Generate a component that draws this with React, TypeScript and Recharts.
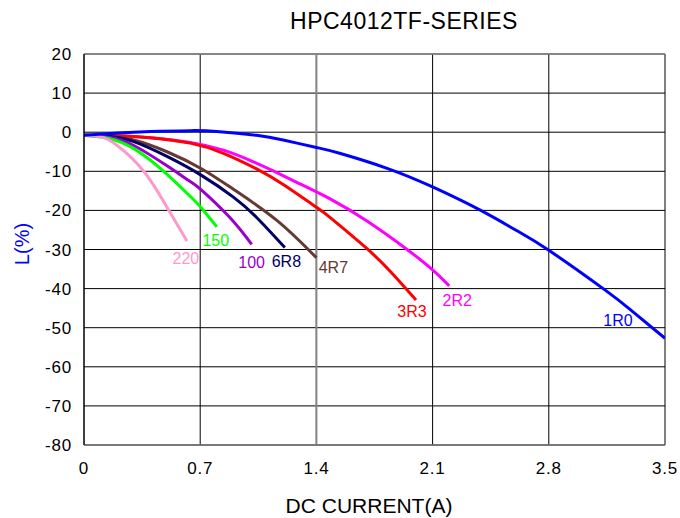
import React from 'react';
import { LineChart, Line, XAxis, YAxis, CartesianGrid, ReferenceLine, LabelList } from 'recharts';

// DC current (A) / inductance change (%), one pair of arrays per part
const X_1R0 = [0, 0.2, 0.4, 0.64, 0.8, 1.04, 1.2, 1.4, 1.54, 1.83, 2.1, 2.39, 2.6, 2.8, 3.14, 3.3, 3.5];
const Y_1R0 = [-0.8, -0.2, 0.2, 0.4, 0.2, -0.8, -2.0, -3.9, -5.4, -9.3, -14.0, -20, -25, -30.2, -40.4, -45.7, -52.7];

const X_2R2 = [0, 0.2, 0.4, 0.64, 0.84, 1.0, 1.14, 1.3, 1.48, 1.7, 1.94, 2.1, 2.2];
const Y_2R2 = [-0.8, -0.9, -1.4, -2.6, -4.6, -7.2, -9.9, -13.2, -17.0, -22.6, -29.8, -35.2, -39.3];

const X_3R3 = [0, 0.2, 0.4, 0.64, 0.84, 1.04, 1.2, 1.4, 1.5, 1.7, 1.85, 2.0];
const Y_3R3 = [-0.8, -0.9, -1.4, -2.8, -5.4, -9.4, -13.4, -19.2, -22.4, -29.6, -35.8, -42.9];

const X_4R7 = [0, 0.15, 0.3, 0.5, 0.71, 0.9, 1.16, 1.4];
const Y_4R7 = [-0.8, -1.0, -2.0, -5.0, -9.4, -14.6, -22.5, -32.1];

const X_6R8 = [0, 0.15, 0.3, 0.5, 0.71, 0.9, 1.04, 1.21];
const Y_6R8 = [-0.8, -1.1, -2.4, -6.2, -11.1, -16.6, -21.8, -29.5];

const X_100 = [0, 0.15, 0.3, 0.5, 0.64, 0.71, 0.88, 1.01];
const Y_100 = [-0.8, -1.3, -3.4, -8.6, -12.6, -14.9, -21.9, -28.7];

const X_150 = [0, 0.15, 0.3, 0.48, 0.64, 0.71, 0.8];
const Y_150 = [-0.8, -1.6, -4.2, -10, -16.4, -19.5, -24.2];

const X_220 = [0, 0.1, 0.2, 0.36, 0.5, 0.62];
const Y_220 = [-0.8, -1.2, -3.4, -10, -19.2, -27.8];

const X_TICKS = [0, 0.7, 1.4, 2.1, 2.8, 3.5];
const Y_TICKS = [20, 10, 0, -10, -20, -30, -40, -50, -60, -70, -80];

const FONT = '"Liberation Sans", Arial, sans-serif';

const toPoints = (xs: number[], ys: number[]) => xs.map((x, i) => ({ x, y: ys[i] }));

// drawing order, colour and where each part name sits relative to the end of its curve
const SERIES = [
    { name: '2R2', xs: X_2R2, ys: Y_2R2, color: '#FF00FF', dx: 8, dy: 14.5 },
    { name: '3R3', xs: X_3R3, ys: Y_3R3, color: '#FF0000', dx: -4, dy: 12 },
    { name: '4R7', xs: X_4R7, ys: Y_4R7, color: '#663A33', dx: 17, dy: 10 },
    { name: '6R8', xs: X_6R8, ys: Y_6R8, color: '#000066', dx: 1.5, dy: 14 },
    { name: '100', xs: X_100, ys: Y_100, color: '#9900CC', dx: 0, dy: 18.5 },
    { name: '150', xs: X_150, ys: Y_150, color: '#00FF00', dx: -1, dy: 14 },
    { name: '220', xs: X_220, ys: Y_220, color: '#FF99CC', dx: -1, dy: 18 },
    { name: '1R0', xs: X_1R0, ys: Y_1R0, color: '#0000FF', dx: -47, dy: -18 },
];

const tickStyle = { fontFamily: FONT, fontSize: 17, fill: '#000', letterSpacing: 0.8 };

export default function App() {
    return (
        <div style={{ position: 'absolute', left: 0, top: 0, width: 680, height: 518, background: '#fff' }}>
            <LineChart width={680} height={518} margin={{ top: 54, right: 15, bottom: 43, left: 0 }}>
                <CartesianGrid stroke="#000" strokeWidth={1} />
                <XAxis
                    type="number"
                    dataKey="x"
                    domain={[0, 3.5]}
                    ticks={X_TICKS}
                    allowDataOverflow
                    height={30}
                    tickLine={false}
                    tickSize={0}
                    tickMargin={17}
                    axisLine={{ stroke: '#777', strokeWidth: 1.5 }}
                    tick={tickStyle}
                    tickFormatter={(v: number) => String(v)}
                />
                <YAxis
                    type="number"
                    domain={[-80, 20]}
                    ticks={Y_TICKS}
                    width={84}
                    tickLine={false}
                    tickSize={0}
                    tickMargin={12}
                    axisLine={{ stroke: '#000', strokeWidth: 1 }}
                    tick={tickStyle}
                />
                <ReferenceLine x={1.4} stroke="#888" strokeWidth={2} />
                <ReferenceLine y={20} stroke="#888" strokeWidth={1.5} />
                {SERIES.map(s => {
                    const pts = toPoints(s.xs, s.ys);
                    return (
                        <Line
                            key={s.name}
                            data={pts}
                            dataKey="y"
                            type="natural"
                            stroke={s.color}
                            strokeWidth={3}
                            dot={false}
                            isAnimationActive={false}
                        >
                            <LabelList
                                dataKey="y"
                                content={(p: any) =>
                                    p.index === pts.length - 1 ? (
                                        <text
                                            x={Number(p.x) + s.dx}
                                            y={Number(p.y) + s.dy}
                                            textAnchor="middle"
                                            dominantBaseline="central"
                                            fontFamily={FONT}
                                            fontSize={16}
                                            fill={s.color}
                                        >
                                            {s.name}
                                        </text>
                                    ) : null
                                }
                            />
                        </Line>
                    );
                })}
            </LineChart>
            <svg width={680} height={518} style={{ position: 'absolute', left: 0, top: 0, pointerEvents: 'none' }}>
                <text x={404} y={29} textAnchor="middle" fontFamily={FONT} fontSize={23} letterSpacing={0.5} fill="#000">
                    HPC4012TF-SERIES
                </text>
                <text x={369} y={513} textAnchor="middle" fontFamily={FONT} fontSize={21} fill="#000">
                    DC CURRENT(A)
                </text>
                <text
                    x={22}
                    y={244}
                    transform="rotate(-90 22 244)"
                    textAnchor="middle"
                    dominantBaseline="central"
                    fontFamily={FONT}
                    fontSize={20}
                    fill="#0000FF"
                >
                    L(%)
                </text>
            </svg>
        </div>
    );
}
